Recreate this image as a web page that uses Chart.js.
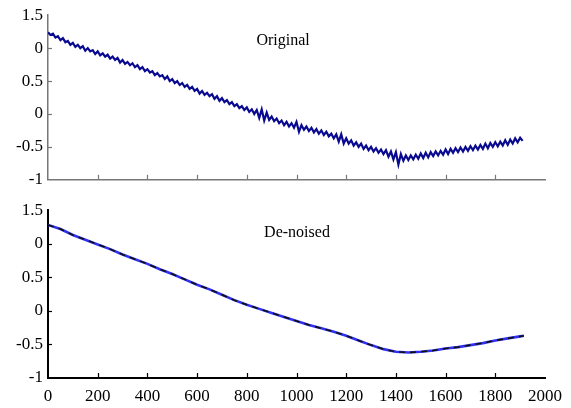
<!DOCTYPE html>
<html>
<head>
<meta charset="utf-8">
<script src="https://cdn.jsdelivr.net/npm/chart.js@4"></script>
<style>
  body { margin: 0; background: #fff; }
  canvas { display: block; }
</style>
</head>
<body>
<canvas id="top" width="571" height="195"></canvas>
<canvas id="bottom" width="571" height="213"></canvas>
<script>
// sampling step of the noisy signal (x units)
var origStep = 10;

// noisy signal, one value every 10 samples from 0 to 1910
var origY = [
  1.24, 1.20, 1.22, 1.16, 1.18, 1.12, 1.15, 1.09, 1.11, 1.05,
  1.08, 1.02, 1.05, 1.00, 1.03, 0.96, 1.00, 0.95, 0.97, 0.91,
  0.95, 0.89, 0.92, 0.87, 0.90, 0.84, 0.87, 0.82, 0.85, 0.78,
  0.82, 0.76, 0.79, 0.74, 0.77, 0.71, 0.74, 0.68, 0.71, 0.65,
  0.68, 0.63, 0.65, 0.59, 0.62, 0.57, 0.59, 0.53, 0.57, 0.50,
  0.53, 0.47, 0.50, 0.44, 0.47, 0.41, 0.44, 0.38, 0.41, 0.35,
  0.38, 0.31, 0.35, 0.29, 0.32, 0.27, 0.30, 0.23, 0.27, 0.20,
  0.24, 0.18, 0.21, 0.15, 0.18, 0.12, 0.15, 0.09, 0.12, 0.06,
  0.10, 0.03, 0.07, 0.00, 0.06, -0.06, 0.07, -0.10, 0.02, -0.09,
  -0.04, -0.11, -0.07, -0.14, -0.10, -0.17, -0.12, -0.19, -0.14, -0.21,
  -0.12, -0.27, -0.17, -0.24, -0.19, -0.26, -0.21, -0.28, -0.23, -0.30,
  -0.25, -0.32, -0.27, -0.34, -0.30, -0.37, -0.31, -0.42, -0.31, -0.45,
  -0.37, -0.45, -0.40, -0.48, -0.43, -0.50, -0.45, -0.53, -0.48, -0.55,
  -0.50, -0.57, -0.52, -0.59, -0.54, -0.61, -0.55, -0.65, -0.57, -0.69,
  -0.58, -0.77, -0.61, -0.71, -0.63, -0.70, -0.63, -0.69, -0.62, -0.68,
  -0.60, -0.67, -0.59, -0.66, -0.58, -0.64, -0.57, -0.63, -0.56, -0.62,
  -0.54, -0.61, -0.53, -0.59, -0.52, -0.58, -0.51, -0.57, -0.50, -0.56,
  -0.49, -0.55, -0.48, -0.54, -0.47, -0.53, -0.45, -0.52, -0.44, -0.50,
  -0.43, -0.49, -0.42, -0.48, -0.40, -0.47, -0.39, -0.45, -0.37, -0.43,
  -0.36, -0.41
];

// de-noised signal
var denX = [0, 50, 100, 150, 200, 250, 300, 350, 400, 450, 500, 550, 600, 650, 700, 750,
  800, 850, 900, 950, 1000, 1050, 1100, 1150, 1200, 1250, 1300, 1350, 1400, 1450, 1500,
  1550, 1600, 1650, 1700, 1750, 1800, 1850, 1900, 1915];
var denY = [1.28, 1.22, 1.13, 1.06, 0.99, 0.92, 0.84, 0.77, 0.70, 0.62, 0.55, 0.47, 0.39,
  0.32, 0.24, 0.16, 0.09, 0.03, -0.03, -0.09, -0.15, -0.21, -0.26, -0.31, -0.37, -0.44,
  -0.51, -0.57, -0.61, -0.62, -0.61, -0.59, -0.56, -0.54, -0.51, -0.48, -0.44, -0.41,
  -0.38, -0.37];

var xTicks = [0, 200, 400, 600, 800, 1000, 1200, 1400, 1600, 1800, 2000];
var yTicks = [-1, -0.5, 0, 0.5, 1, 1.5];
var yTickLabels = ['-1', '-0.5', '0', '0.5', '0', '1.5'];

var origPoints = origY.map(function (v, i) { return { x: i * origStep, y: v }; });
var denPoints = denY.map(function (v, i) { return { x: denX[i], y: v }; });

var serif = 'Liberation Serif, Times New Roman, serif';

function panelPlugin(title, tx, ty, axisColor) {
  return {
    id: 'panel',
    afterDraw: function (chart) {
      var c = chart.ctx, a = chart.chartArea;
      var xs = chart.scales.x, ys = chart.scales.y;
      c.save();
      c.strokeStyle = axisColor;
      c.lineWidth = 1.2;
      xTicks.forEach(function (t) {
        if (t === 0 || t === 2000) return;
        var px = Math.round(xs.getPixelForValue(t)) + 0.5;
        c.beginPath(); c.moveTo(px, a.bottom); c.lineTo(px, a.bottom - 5); c.stroke();
      });
      yTicks.forEach(function (t) {
        if (t === -1 || t === 1.5) return;
        var py = Math.round(ys.getPixelForValue(t)) + 0.5;
        c.beginPath(); c.moveTo(a.left, py); c.lineTo(a.left + 4, py); c.stroke();
      });
      c.fillStyle = '#000';
      c.font = '16px ' + serif;
      c.textAlign = 'center';
      c.textBaseline = 'middle';
      c.fillText(title, xs.getPixelForValue(tx), ys.getPixelForValue(ty));
      c.restore();
    }
  };
}

function makeOptions(showXLabels, axisColor, axisWidth, padTop, xHeight) {
  return {
    responsive: false,
    animation: false,
    layout: { padding: { top: padTop, right: 26, left: 0, bottom: 0 } },
    plugins: { legend: { display: false }, tooltip: { enabled: false } },
    scales: {
      x: {
        type: 'linear', min: 0, max: 2000,
        grid: { display: false, drawTicks: false },
        border: { display: true, color: axisColor, width: axisWidth },
        afterBuildTicks: function (s) { s.ticks = xTicks.map(function (v) { return { value: v }; }); },
        afterFit: function (s) { s.height = xHeight; },
        ticks: { display: showXLabels, color: '#000', padding: 8, maxRotation: 0, autoSkip: false,
          font: { family: serif, size: 17 },
          callback: function (v) { return String(v); } }
      },
      y: {
        type: 'linear', min: -1, max: 1.5,
        grid: { display: false, drawTicks: false },
        border: { display: true, color: axisColor, width: axisWidth },
        afterBuildTicks: function (s) { s.ticks = yTicks.map(function (v) { return { value: v }; }); },
        afterFit: function (s) { s.width = 48; },
        ticks: {
          color: '#000', padding: 5, autoSkip: false,
          font: { family: serif, size: 17 },
          callback: function (v) { return yTickLabels[yTicks.indexOf(v)]; }
        }
      }
    }
  };
}

new Chart(document.getElementById('top'), {
  type: 'line',
  data: {
    datasets: [{
      data: origPoints, borderColor: '#0a0a90', borderWidth: 2.2,
      pointRadius: 0, tension: 0, fill: false
    }]
  },
  options: makeOptions(false, '#777', 1.5, 11, 9),
  plugins: [panelPlugin('Original', 946, 1.11, '#777')]
});

new Chart(document.getElementById('bottom'), {
  type: 'line',
  data: {
    datasets: [{
      data: denPoints, borderColor: '#111', borderWidth: 1.6, borderDash: [6, 5],
      pointRadius: 0, tension: 0, fill: false, order: 0
    }, {
      data: denPoints, borderColor: '#3030f0', borderWidth: 2.6,
      pointRadius: 0, tension: 0, fill: false, order: 1
    }]
  },
  options: makeOptions(true, '#000', 2, 10, 30),
  plugins: [panelPlugin('De-noised', 1002, 1.17, '#000')]
});
</script>
</body>
</html>
